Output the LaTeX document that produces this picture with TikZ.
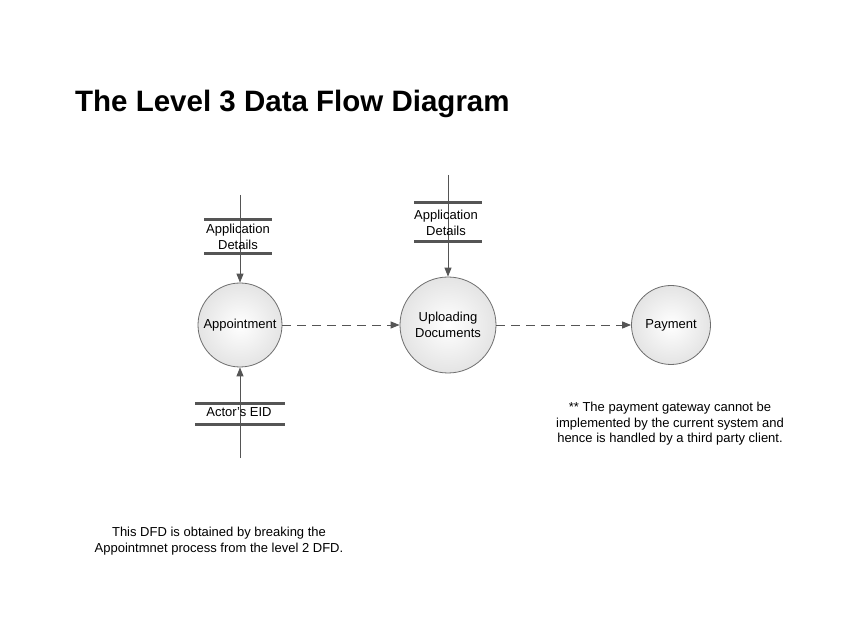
\documentclass[tikz,border=0pt]{standalone}
\usepackage{fontspec}
\setmainfont{Liberation Sans}
\usetikzlibrary{arrows.meta}
\definecolor{linegray}{RGB}{85,85,85}
\definecolor{circfill}{RGB}{228,228,228}
\definecolor{circline}{RGB}{110,110,110}
\tikzset{
  proc/.style={circle,draw=circline,line width=0.8pt,inner color=white,outer color=circfill,minimum size=#1,inner sep=0pt,align=center,font=\lbl},
  storeline/.style={draw=linegray,line width=3pt},
  flow/.style={draw=linegray,line width=0.9pt,-{Triangle[length=9pt,width=7pt]}},
  dflow/.style={draw=linegray,line width=0.9pt,dash pattern=on 9pt off 6pt,-{Triangle[length=9pt,width=7pt]}},
  lab/.style={align=center,font=\lbl,inner sep=0pt},
}
\newcommand{\lbl}{\fontsize{13}{15.5}\selectfont}
\begin{document}
\begin{tikzpicture}[x=1pt,y=-1pt]
\useasboundingbox (0,0) rectangle (846,617);
\fill[white] (0,0) rectangle (846,617);
% title
\node[anchor=base west,inner sep=0pt,font=\fontsize{29.5}{34}\selectfont\bfseries] (title) at (75,112) {The Level 3 Data Flow Diagram};
% processes
\node[proc=84pt] (appt) at (240,325) {Appointment};
\node[proc=96pt] (upl) at (448,325) {Uploading\\Documents};
\node[proc=79pt] (pay) at (671,325) {Payment};
% data store 1
\coordinate (s1a) at (204,220); \coordinate (s1b) at (272,220);
\coordinate (s1c) at (204,254); \coordinate (s1d) at (272,254);
\draw[storeline] (s1a) -- (s1b);
\draw[storeline] (s1c) -- (s1d);
\coordinate (in1) at (240,195);
\draw[flow] (in1) -- (appt.north);
\node[lab] (s1t) at (238,237) {Application\\Details};
% data store 2
\coordinate (s2a) at (414,203); \coordinate (s2b) at (482,203);
\coordinate (s2c) at (414,242); \coordinate (s2d) at (482,242);
\draw[storeline] (s2a) -- (s2b);
\draw[storeline] (s2c) -- (s2d);
\coordinate (in2) at (448,175);
\draw[flow] (in2) -- (upl.north);
\node[lab] (s2t) at (446,223) {Application\\Details};
% data store 3
\coordinate (s3a) at (195,404); \coordinate (s3b) at (285,404);
\coordinate (s3c) at (195,424); \coordinate (s3d) at (285,424);
\draw[storeline] (s3a) -- (s3b);
\draw[storeline] (s3c) -- (s3d);
\coordinate (in3) at (240,458);
\draw[flow] (in3) -- (appt.south);
\node[lab] (s3t) at (239,412) {Actor's EID};
% dashed flows
\draw[dflow] (appt.east) -- (upl.west);
\draw[dflow] (upl.east) -- (pay.west);
% notes
\node[lab] (note1) at (670,424) {** The payment gateway cannot be\\implemented by the current system and\\hence is handled by a third party client.};
\node[lab] (note2) at (219,541) {This DFD is obtained by breaking the\\Appointmnet process from the level 2 DFD.};
\end{tikzpicture}
\end{document}
